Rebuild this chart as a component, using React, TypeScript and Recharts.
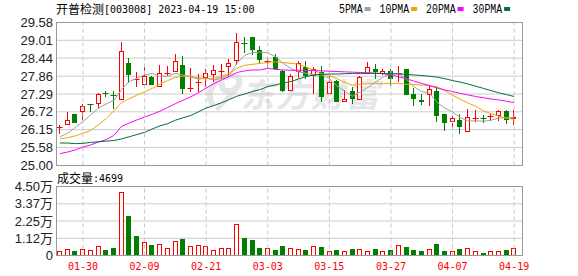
import React from 'react';
import { ComposedChart, Bar, Line, XAxis, YAxis, CartesianGrid, ReferenceLine } from 'recharts';

const dates = ['01-18','01-19','01-20','01-30','01-31','02-01','02-02','02-03','02-06','02-07','02-08','02-09','02-10','02-13','02-14','02-15','02-16','02-17','02-20','02-21','02-22','02-23','02-24','02-27','02-28','03-01','03-02','03-03','03-06','03-07','03-08','03-09','03-10','03-13','03-14','03-15','03-16','03-17','03-20','03-21','03-22','03-23','03-24','03-27','03-28','03-29','03-30','03-31','04-03','04-04','04-06','04-07','04-10','04-11','04-12','04-13','04-14','04-17','04-18','04-19'];

const opens = [26.22,26.30,26.64,26.71,26.98,26.98,27.31,27.27,27.10,28.28, 27.77,27.59,27.85,27.53,27.96,27.99,28.23,27.47,27.64,27.81, 27.91,28.01,28.15,28.36,28.91,29.11,28.69,28.33,28.48,28.04, 27.40,27.99,28.17,27.88,27.99,27.30,27.72,27.03,27.40,27.10, 27.94,28.10,27.94,28.02,27.95,28.08,27.28,27.11,27.26,27.40, 26.64,26.40,26.46,26.06,26.50,26.51,26.55,26.60,26.73,26.48];
const closes = [26.23,26.46,26.35,26.90,26.97,27.30,27.30,27.26,28.66,27.90, 27.78,27.86,27.59,27.97,27.97,28.34,27.45,27.49,27.67,27.97, 28.07,28.03,28.28,28.95,28.90,28.69,28.37,28.34,28.10,27.38, 27.88,28.28,27.88,28.10,27.19,27.67,27.03,27.13,27.14,27.85, 28.15,27.99,28.02,27.76,27.97,27.27,27.12,27.03,27.45,26.60, 26.37,26.53,26.22,26.55,26.51,26.50,26.57,26.73,26.47,26.55];
const highs = [26.30,26.72,26.64,26.96,26.98,27.33,27.38,27.38,28.95,28.45, 28.00,28.24,27.88,28.22,28.20,28.56,28.50,28.11,27.94,28.10, 28.23,28.26,28.42,29.24,29.10,29.13,28.82,28.48,28.56,28.06, 27.92,28.34,28.36,28.14,28.20,27.88,27.75,27.42,27.51,27.88, 28.31,28.24,28.08,28.10,28.18,28.10,27.49,27.30,27.57,27.50, 26.66,26.65,26.64,26.80,26.78,26.62,26.66,26.79,26.78,26.78];
const lows = [26.01,26.30,26.35,26.45,26.70,26.85,27.18,26.82,27.10,27.64, 27.50,27.59,27.59,27.53,27.88,27.99,27.29,27.37,27.35,27.53, 27.66,27.77,27.82,28.21,28.61,28.53,28.24,28.11,28.06,27.35, 27.38,27.80,27.78,27.30,27.03,27.30,27.03,27.03,26.98,27.10, 27.94,27.78,27.90,27.55,27.68,27.27,26.92,26.94,26.92,26.38, 26.11,26.17,26.01,26.06,26.38,26.36,26.43,26.43,26.32,26.30];

const ma5 = [25.92,26.03,26.22,26.41,26.62,26.83,26.97,27.08,27.43,27.69, 27.79,27.90,27.95,27.85,27.87,27.95,27.90,27.83,27.77,27.79, 27.74,27.79,27.90,28.27,28.53,28.61,28.63,28.61,28.48,28.27, 28.11,28.00,27.95,27.90,27.90,27.78,27.55,27.38,27.22,27.35, 27.50,27.67,27.84,27.93,27.95,27.76,27.52,27.37,27.32,27.02, 26.84,26.72,26.53,26.43,26.43,26.42,26.45,26.52,26.53,26.53];
const ma10 = [25.85,25.89,25.95,26.03,26.12,26.30,26.50,26.75,27.01,27.14, 27.25,27.36,27.47,27.60,27.72,27.82,27.86,27.86,27.80,27.79, 27.79,27.85,27.95,28.11,28.21,28.24,28.27,28.30,28.32,28.30, 28.27,28.25,28.15,28.05,27.94,27.88,27.78,27.66,27.57,27.60, 27.62,27.62,27.62,27.63,27.63,27.60,27.59,27.58,27.56,27.52, 27.40,27.25,27.12,27.00,26.90,26.75,26.66,26.58,26.52,26.48];
const ma20 = [25.38,25.43,25.50,25.59,25.66,25.75,25.83,25.96,26.25,26.36, 26.46,26.55,26.64,26.74,26.86,26.98,27.09,27.20,27.33,27.48, 27.62,27.74,27.85,27.98,28.03,28.06,28.06,28.11,28.08,28.06, 28.05,28.05,28.05,28.04,28.03,28.02,28.01,28.00,27.99,27.98, 27.97,27.96,27.94,27.90,27.84,27.78,27.70,27.63,27.56,27.48, 27.42,27.37,27.31,27.26,27.21,27.17,27.13,27.10,27.06,27.01];
const ma30 = [25.72,25.72,25.70,25.71,25.74,25.76,25.78,25.80,25.85,25.92, 25.99,26.06,26.17,26.27,26.34,26.45,26.53,26.60,26.72,26.84, 26.92,27.01,27.11,27.22,27.29,27.37,27.43,27.53,27.58,27.64, 27.69,27.77,27.85,27.90,27.92,27.93,27.93,27.94,27.95,27.95, 27.95,27.95,27.95,27.94,27.93,27.92,27.90,27.88,27.86,27.83, 27.78,27.72,27.67,27.61,27.54,27.47,27.40,27.33,27.27,27.21];

const volumes = [3250,4330,3250,4330,3680,6270,3890,4980,41500,25960, 12980,9090,7140,7570,4980,9520,11030,6270,6700,6270, 3890,4980,4980,20550,11680,10380,5190,5190,3890,6270, 4980,4330,3890,6270,5840,3240,3890,3240,4330,4330, 3240,4540,3240,3890,7140,5840,3890,2810,4330,7790, 3240,3240,4540,4980,3240,1950,3240,3240,3890,4699];
const volUp = [1,1,0,1,1,1,0,0,1,0, 0,1,0,1,1,1,0,1,1,1, 1,1,1,1,0,0,0,1,0,0, 1,1,0,1,0,1,0,1,0,1, 1,0,1,0,1,0,0,0,1,0, 0,1,0,1,1,0,1,1,0,1];

const priceTicks = [25.00, 25.58, 26.15, 26.72, 27.29, 27.86, 28.44, 29.01, 29.58];
const priceTickLabels = ['25.00', '25.58', '26.15', '26.72', '27.29', '27.86', '28.44', '29.01', '29.58'];
const volTicks = [0, 11250, 22500, 33750, 45000];
const volTickLabels = ['0', '1.12万', '2.25万', '3.37万', '4.50万'];
const xLabelDates = ['01-30', '02-09', '02-21', '03-03', '03-15', '03-27', '04-07', '04-19'];

const titleName = '开普检测';
const titleRest = '[003008] 2023-04-19 15:00';
const volTitle = '成交量';
const volLast = ':4699';
const watermark = '东方财富';
const legendNames = ['5PMA', '10PMA', '20PMA', '30PMA'];
const legendColors = ['#a0a0a0', '#f0a30a', '#ff00ff', '#00703c'];

const RED = '#ff0000';
const GREEN = '#008000';

const rows = dates.map((date, i) => ({
  date,
  open: opens[i],
  high: highs[i],
  low: lows[i],
  close: closes[i],
  ma5: ma5[i],
  ma10: ma10[i],
  ma20: ma20[i],
  ma30: ma30[i],
  volume: volumes[i],
  volUp: volUp[i],
}));

function Candle(props: any) {
  const { x, y, width, height, payload } = props;
  if (x == null || y == null || payload == null) return null;
  const top = Math.min(y, y + height);
  const h = Math.abs(height);
  const { open, close, high, low } = payload;
  const span = high - low;
  const py = (v: number) => (span > 0 ? top + ((high - v) / span) * h : top);
  const cx = Math.floor(x + width / 2) + 0.5;
  const up = close >= open;
  const color = up ? RED : GREEN;
  const yHigh = Math.round(top);
  const yLow = Math.max(Math.round(top + h), yHigh + 1);
  const yA = Math.round(py(Math.max(open, close)));
  const yB = Math.round(py(Math.min(open, close)));
  if (yB - yA < 2) {
    return (
      <g>
        <line x1={cx} x2={cx} y1={yHigh} y2={yLow} stroke={color} strokeWidth={1} />
        <line x1={cx - 3} x2={cx + 3} y1={yA + 0.5} y2={yA + 0.5} stroke={color} strokeWidth={1} />
      </g>
    );
  }
  if (up) {
    return (
      <g>
        {yA > yHigh && <line x1={cx} x2={cx} y1={yHigh} y2={yA} stroke={color} strokeWidth={1} />}
        {yLow > yB && <line x1={cx} x2={cx} y1={yB} y2={yLow} stroke={color} strokeWidth={1} />}
        <rect x={cx - 2} y={yA + 0.5} width={4} height={yB - yA - 1} fill="#ffffff" stroke={color} strokeWidth={1} />
      </g>
    );
  }
  return (
    <g>
      <line x1={cx} x2={cx} y1={yHigh} y2={yLow} stroke={color} strokeWidth={1} />
      <rect x={cx - 2.5} y={yA} width={5} height={yB - yA} fill={color} />
    </g>
  );
}

function VolBar(props: any) {
  const { x, y, width, height, payload } = props;
  if (x == null || y == null || payload == null) return null;
  const cx = Math.floor(x + width / 2) + 0.5;
  const top = Math.round(Math.min(y, y + height));
  const bottom = Math.round(Math.max(y, y + height));
  if (payload.volUp) {
    return <rect x={cx - 2} y={top + 0.5} width={4} height={Math.max(bottom - top - 1, 0)} fill="#ffffff" stroke={RED} strokeWidth={1} />;
  }
  return <rect x={cx - 2.5} y={top} width={5} height={bottom - top} fill={GREEN} />;
}

const axisFont = 'Liberation Sans, Arial, "Noto Sans CJK SC", sans-serif';

export default function App() {
  let lx = 339;
  const legendItems = legendNames.map((name, i) => {
    const w = name.length * 5.9;
    const item = { name, color: legendColors[i], x: lx, w };
    lx += w + 2 + 6 + 9;
    return item;
  });

  return (
    <div style={{ position: 'absolute', left: 0, top: 0, width: 578, height: 276, background: '#ffffff', overflow: 'hidden' }}>
      <svg width={578} height={276} style={{ position: 'absolute', left: 0, top: 0 }}>
        <path d="M212 104 C 206 92, 214 78, 230 76 C 238 75, 242 80, 238 86 C 232 94, 220 92, 222 84" fill="none" stroke="#e6e6ea" strokeWidth={6} strokeLinecap="round" />
        <path d="M218 108 L 236 90" fill="none" stroke="#e6e6ea" strokeWidth={5} strokeLinecap="round" />
        <text x={241} y={107} fontFamily='"Noto Sans CJK SC", sans-serif' fontSize={33} fontWeight={700} fontStyle="italic" letterSpacing={2} fill="#e6e6ea">{watermark}</text>
      </svg>

      <div style={{ position: 'absolute', left: 0, top: 0 }}>
        <ComposedChart width={578} height={180} data={rows} margin={{ top: 22.5, right: 56, bottom: 14.5, left: 0 }}>
          <CartesianGrid vertical={false} stroke="#cccccc" />
          <XAxis dataKey="date" hide padding={{ left: 0, right: 4 }} />
          <YAxis
            domain={[25, 29.58]}
            ticks={priceTicks}
            interval={0}
            width={56}
            axisLine={false}
            tickLine={false}
            tickSize={0}
            tickMargin={3}
            tickFormatter={(v: number, i: number) => priceTickLabels[i] ?? String(v)}
            tick={{ fill: '#222222', fontSize: 13, fontFamily: axisFont }}
            allowDataOverflow
          />
          {xLabelDates.map((d) => (
            <ReferenceLine key={d} x={d} stroke="#c8c8c8" strokeDasharray="4 3" />
          ))}
          <Bar dataKey={(d: any) => [d.low, d.high]} barSize={5} shape={(p: any) => <Candle {...p} />} isAnimationActive={false} />
          <Line type="linear" dataKey="ma5" stroke={legendColors[0]} strokeWidth={1} dot={false} isAnimationActive={false} />
          <Line type="linear" dataKey="ma10" stroke={legendColors[1]} strokeWidth={1} dot={false} isAnimationActive={false} />
          <Line type="linear" dataKey="ma20" stroke={legendColors[2]} strokeWidth={1} dot={false} isAnimationActive={false} />
          <Line type="linear" dataKey="ma30" stroke={legendColors[3]} strokeWidth={1} dot={false} isAnimationActive={false} />
        </ComposedChart>
      </div>

      <div style={{ position: 'absolute', left: 0, top: 170 }}>
        <ComposedChart width={578} height={106} data={rows} margin={{ top: 16.5, right: 56, bottom: 0, left: 0 }}>
          <CartesianGrid vertical={false} stroke="#cccccc" />
          <XAxis
            dataKey="date"
            ticks={xLabelDates}
            interval={0}
            height={20.5}
            axisLine={false}
            tickLine={false}
            tickSize={0}
            tickMargin={7}
            padding={{ left: 0, right: 4 }}
            tick={{ fill: RED, fontSize: 10, fontFamily: '"DejaVu Sans Mono", monospace' }}
          />
          <YAxis
            domain={[0, 45000]}
            ticks={volTicks}
            interval={0}
            width={56}
            axisLine={false}
            tickLine={false}
            tickSize={0}
            tickMargin={3}
            tickFormatter={(v: number, i: number) => volTickLabels[i] ?? String(v)}
            tick={{ fill: '#222222', fontSize: 13, fontFamily: axisFont }}
            allowDataOverflow
          />
          {xLabelDates.map((d) => (
            <ReferenceLine key={d} x={d} stroke="#c8c8c8" strokeDasharray="4 3" />
          ))}
          <Bar dataKey="volume" barSize={5} shape={(p: any) => <VolBar {...p} />} isAnimationActive={false} />
        </ComposedChart>
      </div>

      <svg width={578} height={276} style={{ position: 'absolute', left: 0, top: 0, pointerEvents: 'none' }}>
        <rect x={56.5} y={22.5} width={466} height={143} fill="none" stroke="#999999" strokeWidth={1} />
        <rect x={56.5} y={186.5} width={466} height={69} fill="none" stroke="#999999" strokeWidth={1} />
        <text x={56} y={13.5} fontFamily='"Noto Sans CJK SC", sans-serif' fontSize={12} fill="#000000">{titleName}</text>
        <text x={104} y={13} fontFamily='"DejaVu Sans Mono", monospace' fontSize={10} fill="#000000">{titleRest}</text>
        {legendItems.map((it) => (
          <g key={it.name}>
            <text x={it.x} y={12.5} fontFamily='"Liberation Mono", monospace' fontSize={12} textLength={it.w} lengthAdjust="spacingAndGlyphs" fill="#000000">{it.name}</text>
            <rect x={it.x + it.w + 2} y={7} width={6} height={4} fill={it.color} />
          </g>
        ))}
        <text x={57} y={182.5} fontFamily='"Noto Sans CJK SC", sans-serif' fontSize={12} fill="#000000">{volTitle}</text>
        <text x={93} y={182} fontFamily='"DejaVu Sans Mono", monospace' fontSize={10} fill="#000000">{volLast}</text>
      </svg>
    </div>
  );
}
